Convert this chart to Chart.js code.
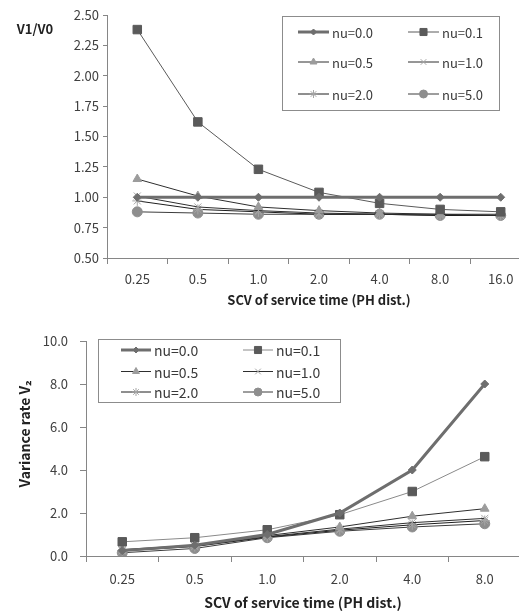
<!DOCTYPE html>
<html lang="en">
<head>
    <meta charset="UTF-8">
    <title>V1/V0 and variance rate vs SCV</title>
    <script src="https://cdn.jsdelivr.net/npm/chart.js"></script>
    <style>
        html, body { margin: 0; padding: 0; background: #fff; overflow: hidden; }
        .wrap { position: relative; width: 519px; height: 612px; overflow: hidden; }
        canvas { position: absolute; left: 0; }
        #topChart { top: 0; }
        #bottomChart { top: 318px; }
    </style>
</head>
<body>
    <div class="wrap">
        <canvas id="topChart" width="540" height="310"></canvas>
        <canvas id="bottomChart" width="540" height="294"></canvas>
    </div>

    <script>
        // categories
        const scvTop = ['0.25', '0.5', '1.0', '2.0', '4.0', '8.0', '16.0'];
        const scvBottom = ['0.25', '0.5', '1.0', '2.0', '4.0', '8.0'];
        const nuLabels = ['nu=0.0', 'nu=0.1', 'nu=0.5', 'nu=1.0', 'nu=2.0', 'nu=5.0'];

        // V1/V0 (top chart)
        const ratioNu00 = [1.00, 1.00, 1.00, 1.00, 1.00, 1.00, 1.00];
        const ratioNu01 = [2.38, 1.62, 1.23, 1.04, 0.95, 0.90, 0.88];
        const ratioNu05 = [1.15, 1.01, 0.92, 0.89, 0.87, 0.86, 0.86];
        const ratioNu10 = [1.01, 0.92, 0.89, 0.87, 0.86, 0.86, 0.85];
        const ratioNu20 = [0.97, 0.90, 0.88, 0.86, 0.86, 0.85, 0.85];
        const ratioNu50 = [0.88, 0.87, 0.86, 0.86, 0.86, 0.85, 0.85];

        // variance rate V2 (bottom chart)
        const varNu00 = [0.25, 0.50, 1.00, 2.00, 4.00, 8.00];
        const varNu01 = [0.66, 0.85, 1.22, 1.92, 3.00, 4.62];
        const varNu05 = [0.30, 0.50, 0.95, 1.35, 1.85, 2.20];
        const varNu10 = [0.27, 0.47, 0.90, 1.25, 1.55, 1.75];
        const varNu20 = [0.24, 0.44, 0.88, 1.20, 1.45, 1.65];
        const varNu50 = [0.15, 0.35, 0.85, 1.15, 1.35, 1.50];

        const yTicksTop = { min: 0.5, max: 2.5, step: 0.25 };
        const yTicksBottom = { min: 0, max: 10, step: 2 };

        // line / marker styles per series
        const styles = [
            { line: '#6e6e6e', width: 3, shape: 'rectRot', r: 4, fill: '#6e6e6e', stroke: '#6e6e6e' },
            { line: '#5a5a5a', width: 1, shape: 'rect', r: 6, fill: '#5a5a5a', stroke: '#5a5a5a' },
            { line: '#2e2e2e', width: 1, shape: 'triangle', r: 5, fill: '#9c9c9c', stroke: '#9c9c9c' },
            { line: '#2e2e2e', width: 1, shape: 'crossRot', r: 5, fill: '#a6a6a6', stroke: '#a6a6a6' },
            { line: '#1e1e1e', width: 1, shape: 'star', r: 5, fill: '#a6a6a6', stroke: '#a6a6a6' },
            { line: '#3c3c3c', width: 1, shape: 'circle', r: 5, fill: '#8e8e8e', stroke: '#8e8e8e' }
        ];

        const FONT = "'Noto Sans CJK KR', 'Noto Sans', sans-serif";
        const AXIS = '#868686';

        function makeSets(series, lineOverride) {
            return series.map((data, i) => {
                const s = styles[i];
                return {
                    label: nuLabels[i],
                    data: data,
                    borderColor: (lineOverride && lineOverride[i]) || s.line,
                    borderWidth: s.width,
                    pointStyle: s.shape,
                    pointRadius: s.r,
                    pointHoverRadius: s.r,
                    pointBackgroundColor: s.fill,
                    pointBorderColor: s.stroke,
                    pointBorderWidth: 1,
                    tension: 0,
                    fill: false
                };
            });
        }

        // legend box + free text drawn on the canvas
        const extras = {
            id: 'extras',
            afterDraw(chart, args, opts) {
                const ctx = chart.ctx;
                const lg = opts.legend;
                ctx.save();
                ctx.fillStyle = '#fff';
                ctx.fillRect(lg.x, lg.y, lg.w, lg.h);
                ctx.strokeStyle = '#8c8c8c';
                ctx.lineWidth = 1;
                ctx.strokeRect(lg.x + 0.5, lg.y + 0.5, lg.w, lg.h);
                chart.data.datasets.forEach((ds, i) => {
                    const cx = lg.cols[i % 2];
                    const cy = lg.rows[Math.floor(i / 2)];
                    ctx.strokeStyle = ds.borderColor;
                    ctx.lineWidth = ds.borderWidth;
                    ctx.beginPath();
                    ctx.moveTo(cx, cy);
                    ctx.lineTo(cx + lg.len, cy);
                    ctx.stroke();
                    ctx.fillStyle = ds.pointBackgroundColor;
                    ctx.strokeStyle = ds.pointBorderColor;
                    ctx.lineWidth = 1;
                    Chart.helpers.drawPoint(ctx, {
                        pointStyle: ds.pointStyle, radius: ds.pointRadius - 1,
                        borderWidth: 1, rotation: 0
                    }, cx + lg.len / 2, cy);
                    ctx.fillStyle = '#3a3a3a';
                    ctx.font = lg.font;
                    ctx.textAlign = 'left';
                    ctx.textBaseline = 'middle';
                    ctx.fillText(ds.label, cx + lg.len + 3, cy + 1);
                });
                opts.texts.forEach(t => {
                    ctx.save();
                    ctx.translate(t.x, t.y);
                    if (t.rot) ctx.rotate(t.rot);
                    ctx.fillStyle = '#222';
                    ctx.font = t.font;
                    ctx.textAlign = 'center';
                    ctx.textBaseline = 'middle';
                    ctx.fillText(t.text, 0, 0);
                    ctx.restore();
                });
                ctx.restore();
            }
        };

        function axisOptions(cfg) {
            return {
                x: {
                    type: 'category',
                    offset: true,
                    grid: { offset: true, drawOnChartArea: false, color: AXIS, tickLength: cfg.xTick },
                    border: { color: AXIS },
                    ticks: { color: '#404040', font: { family: FONT, size: 13 }, padding: cfg.xPad, maxRotation: 0 },
                    afterFit: s => { s.height = cfg.xHeight; }
                },
                y: {
                    min: cfg.y.min,
                    max: cfg.y.max,
                    grid: { drawOnChartArea: false, color: AXIS, tickLength: cfg.yTick },
                    border: { color: AXIS },
                    ticks: {
                        stepSize: cfg.y.step,
                        color: '#404040',
                        font: { family: FONT, size: 13 },
                        padding: cfg.yPad,
                        callback: v => v.toFixed(cfg.dec)
                    },
                    afterFit: s => { s.width = cfg.yWidth; }
                }
            };
        }

        new Chart(document.getElementById('topChart'), {
            type: 'line',
            data: {
                labels: scvTop,
                datasets: makeSets([ratioNu00, ratioNu01, ratioNu05, ratioNu10, ratioNu20, ratioNu50])
            },
            options: {
                responsive: false,
                animation: false,
                devicePixelRatio: 1,
                layout: { padding: { top: 15, right: 9, left: 0, bottom: 0 } },
                scales: axisOptions({ y: yTicksTop, dec: 2, xTick: 6, xPad: 7, xHeight: 52, yTick: 4, yPad: 4, yWidth: 107 }),
                plugins: {
                    legend: { display: false },
                    tooltip: { enabled: false },
                    extras: {
                        legend: { x: 282, y: 16, w: 217, h: 94, cols: [298, 408], rows: [32, 62, 94], len: 31, font: '13px ' + FONT },
                        texts: [
                            { text: 'V1/V0', x: 35, y: 29, font: 'bold 13px ' + FONT },
                            { text: 'SCV of service time (PH dist.)', x: 319, y: 300, font: 'bold 13px ' + FONT }
                        ]
                    }
                }
            },
            plugins: [extras]
        });

        new Chart(document.getElementById('bottomChart'), {
            type: 'line',
            data: {
                labels: scvBottom,
                datasets: makeSets([varNu00, varNu01, varNu05, varNu10, varNu20, varNu50],
                    [null, '#8a8a8a', null, null, null, null])
            },
            options: {
                responsive: false,
                animation: false,
                devicePixelRatio: 1,
                layout: { padding: { top: 23, right: 19, left: 0, bottom: 0 } },
                scales: axisOptions({ y: yTicksBottom, dec: 1, xTick: 6, xPad: 9, xHeight: 56, yTick: 6, yPad: 12, yWidth: 86 }),
                plugins: {
                    legend: { display: false },
                    tooltip: { enabled: false },
                    extras: {
                        legend: { x: 98, y: 21, w: 242, h: 63, cols: [121, 243], rows: [32, 53.5, 74], len: 30, font: '14px ' + FONT },
                        texts: [
                            { text: 'Variance rate V\u2082', x: 25, y: 116, rot: -Math.PI / 2, font: 'bold 14px ' + FONT },
                            { text: 'SCV of service time (PH dist.)', x: 303, y: 285, font: 'bold 14px ' + FONT }
                        ]
                    }
                }
            },
            plugins: [extras]
        });
    </script>
</body>
</html>
